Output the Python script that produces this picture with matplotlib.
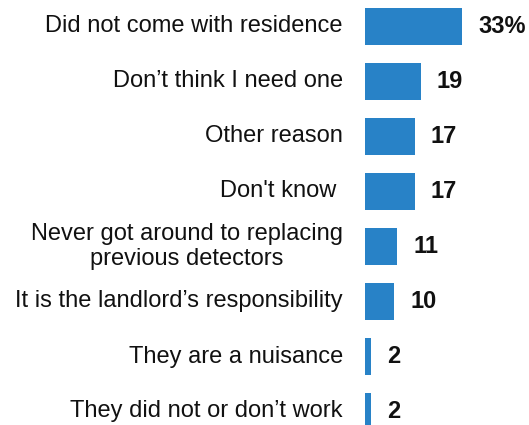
import matplotlib.pyplot as plt

reasons = [
    "Did not come with residence",
    "Don\u2019t think I need one",
    "Other reason",
    "Don't know ",
    "Never got around to replacing\nprevious detectors",
    "It is the landlord\u2019s responsibility",
    "They are a nuisance",
    "They did not or don\u2019t work",
]
shares = [33, 19, 17, 17, 11, 10, 2, 2]
value_labels = ["33%", "19", "17", "17", "11", "10", "2", "2"]

plt.rcParams["font.family"] = ["Liberation Sans", "DejaVu Sans"]

W, H = 529, 425
fig = plt.figure(figsize=(W / 100, H / 100), dpi=100)
ax = fig.add_axes([365 / W, 0, (W - 365) / W, 1])

ypos = list(range(len(reasons)))
ax.barh(ypos, shares, height=37 / 55, color="#2882C7")

ax.set_xlim(0, (W - 365) / 2.94)
ax.set_ylim((H - 26.5) / 55, -26.5 / 55)
ax.axis("off")

for y, name, v, lab in zip(ypos, reasons, shares, value_labels):
    ax.annotate(name, xy=(0, y), xytext=(-16, 0), textcoords="offset points",
                ha="right", va="center", multialignment="center",
                fontsize=17, color="#111111", annotation_clip=False,
                linespacing=1.2)
    ax.annotate(lab, xy=(v, y), xytext=(11.5, 0), textcoords="offset points",
                ha="left", va="center", fontsize=17, fontweight="bold",
                color="#111111", annotation_clip=False)

fig.savefig("out.png", dpi=100)
